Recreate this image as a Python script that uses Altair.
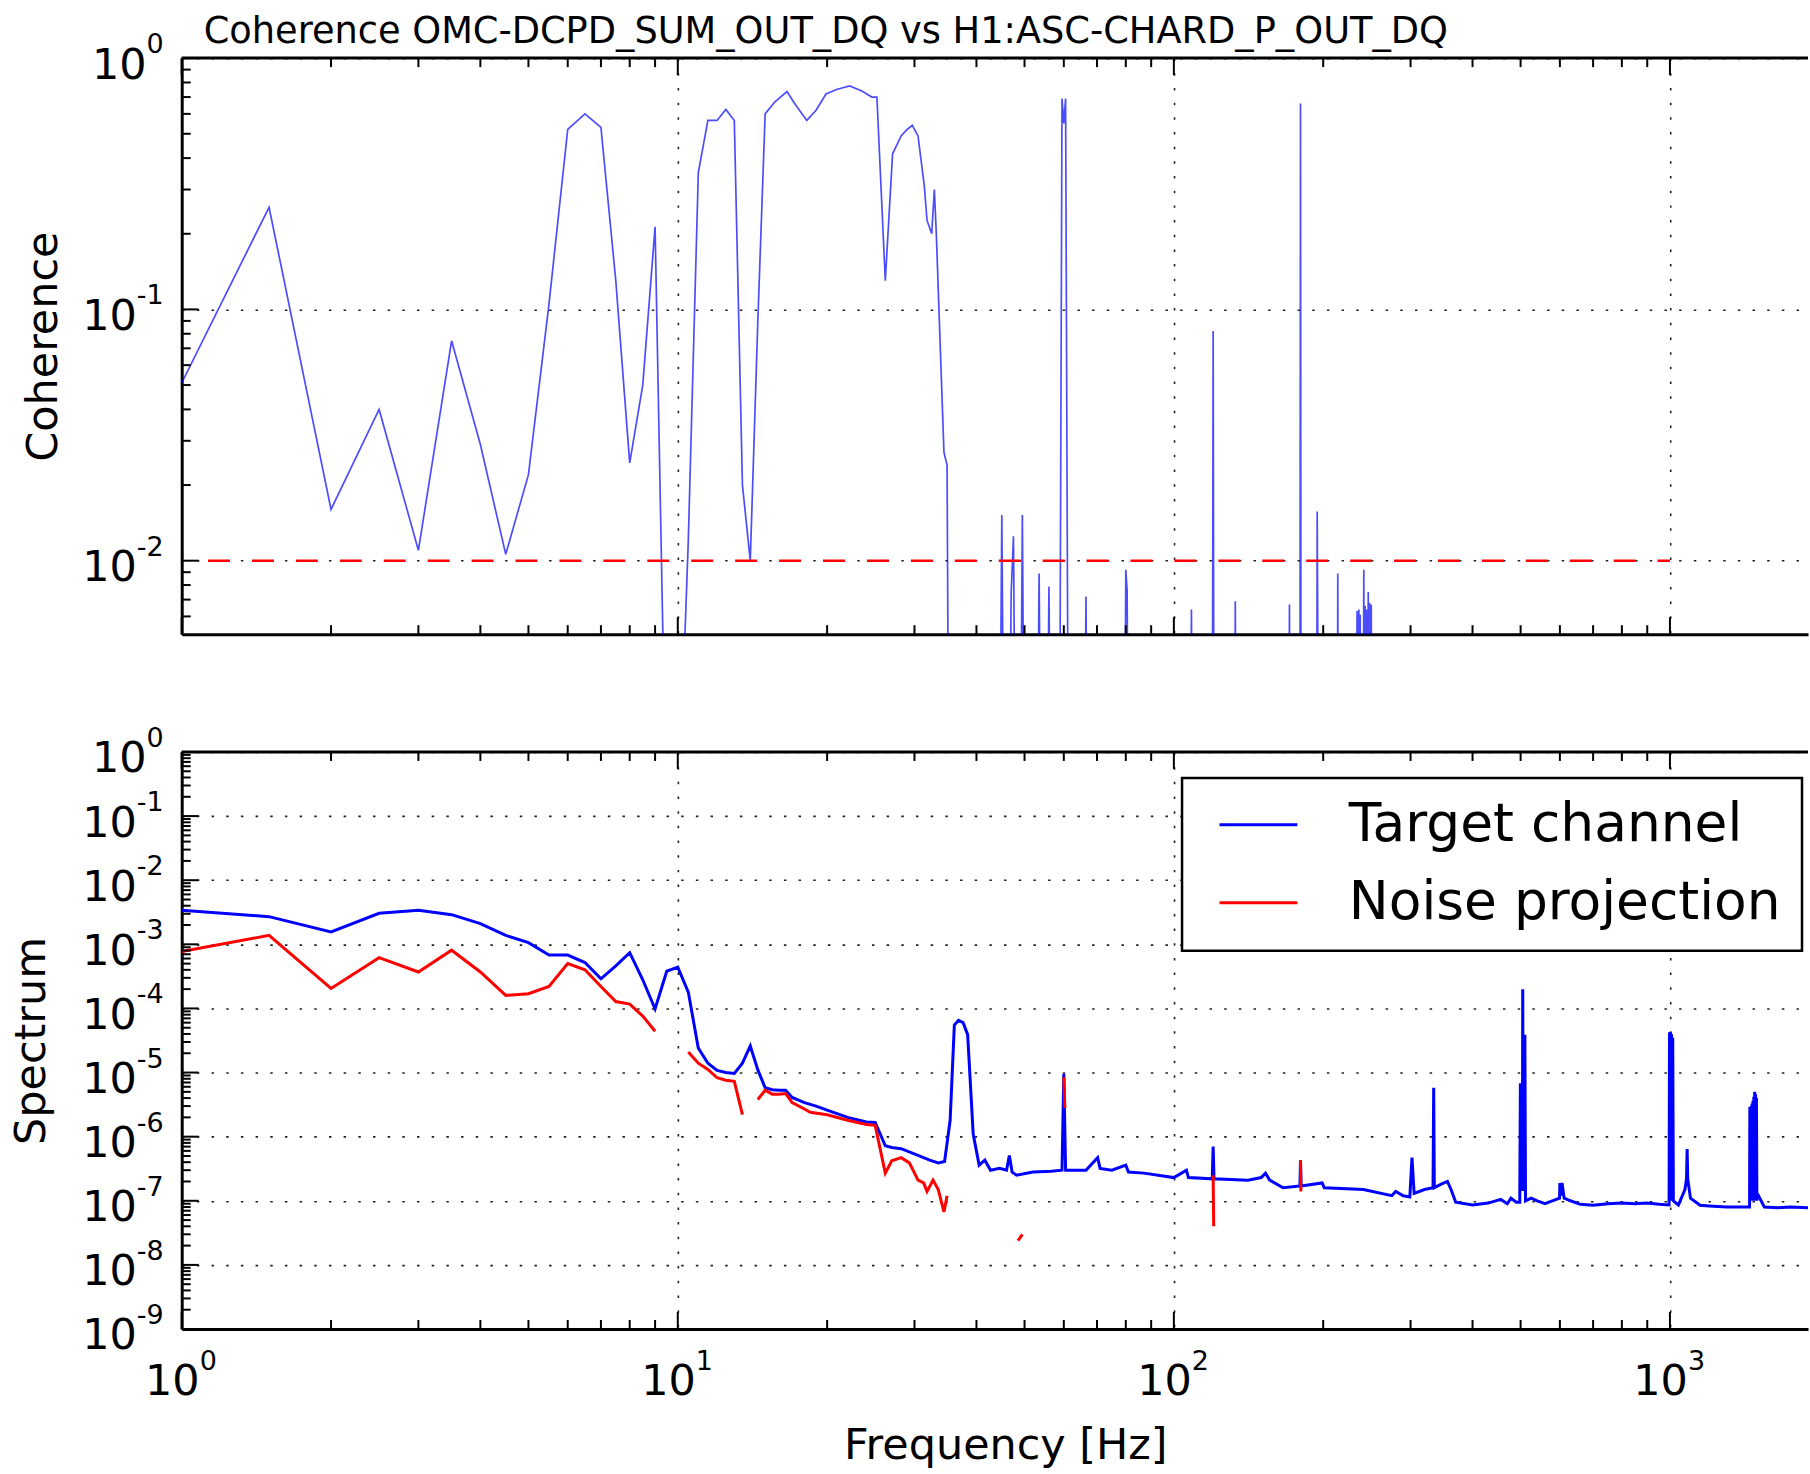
import altair as alt
import pandas as pd

FONT = "DejaVu Sans"

# ---------------- texts ----------------
TITLE = "Coherence OMC-DCPD_SUM_OUT_DQ vs H1:ASC-CHARD_P_OUT_DQ"
X_TITLE = "Frequency [Hz]"
Y_TITLE_TOP = "Coherence"
Y_TITLE_BOTTOM = "Spectrum"
SERIES = ["Target channel", "Noise projection"]
SERIES_COLORS = ["#0000ff", "#ff0000"]

# ---------------- axes / tick labels (10 with superscript exponent) ----------------
X_DOMAIN = [1.0, 1898.0]
COH_DOMAIN = [0.0051, 1.0]
SPEC_DOMAIN = [1e-9, 1.0]
x_major = [1, 10, 100, 1000]
x_exp = ["0", "1", "2", "3"]
coh_major = [1, 0.1, 0.01]
coh_exp = ["0", "-1", "-2"]
spec_major = [1, 1e-1, 1e-2, 1e-3, 1e-4, 1e-5, 1e-6, 1e-7, 1e-8, 1e-9]
spec_exp = ["0", "-1", "-2", "-3", "-4", "-5", "-6", "-7", "-8", "-9"]
BASE_TEXT = "10"

# ---------------- coherence (top panel) ----------------
L = 0.0008  # below the visible floor of the panel
coh_freq = [
    1.0, 1.5, 2.0, 2.5, 3.0, 3.5, 4.0, 4.5, 5.0, 5.5,
    6.0, 6.5, 7.0, 7.5, 8.0, 8.5, 9.0, 9.5, 10.0, 10.5,
    11.0, 11.5, 12.0, 12.5, 13.0, 13.5, 14.0, 14.5, 15.0, 15.7,
    16.6, 17.2, 18.2, 19.0, 19.9, 20.9, 22.2, 23.5, 24.6, 25.2,
    26.2, 27.1, 28.2, 29.0, 29.7, 30.5, 31.4, 31.8, 32.5, 32.9,
    33.2, 34.4, 34.9, 35.2,
    44.5, 45.0, 45.5, 46.5, 47.0, 47.5, 48.0, 49.0, 49.5, 50.0,
    53.0, 53.5, 54.0, 55.5, 56.0, 56.5, 58.8, 59.5, 60.0, 60.5,
    61.3, 66.0, 66.5, 67.0, 79.5, 80.0, 80.5, 81.0, 108.0, 108.5,
    109.0, 119.5, 120.0, 120.5, 132.5, 133.0, 133.5, 170.5, 171.0, 171.5,
    179.5, 180.0, 180.5, 194.0, 194.5, 195.0, 196.5, 213.5, 214.0, 214.5,
    233.5, 234.0, 234.5, 235.0, 235.5, 236.0, 236.5, 237.5, 238.0, 240.5,
    241.5, 242.0, 243.0, 243.5, 245.0, 245.5, 246.5, 247.0, 248.0, 248.5,
    250.0, 250.5, 1898.0,
]
coh_val = [
    0.051, 0.255, 0.016, 0.040, 0.011, 0.075, 0.029, 0.0106, 0.022, 0.105,
    0.52, 0.60, 0.53, 0.13, 0.0245, 0.050, 0.213, L, L, 0.012,
    0.35, 0.565, 0.565, 0.625, 0.565, 0.020, 0.0100, 0.09, 0.60, 0.67,
    0.736, 0.66, 0.565, 0.62, 0.72, 0.75, 0.775, 0.74, 0.70, 0.70,
    0.13, 0.416, 0.49, 0.52, 0.54, 0.49, 0.31, 0.226, 0.20, 0.30,
    0.20, 0.027, 0.024, L,
    L, 0.0152, L, L, 0.0075, 0.0125, L, L, 0.0152, L,
    L, 0.0089, L, L, 0.0079, L, L, 0.69, 0.55, 0.69,
    L, L, 0.0072, L, L, 0.0092, 0.0076, L, L, 0.0064,
    L, L, 0.082, L, L, 0.0069, L, L, 0.0067, L,
    L, 0.66, L, L, 0.0157, 0.0053, L, L, 0.0089, L,
    L, 0.0063, L, 0.0062, L, 0.0064, L, 0.0061, L, L,
    0.0092, L, 0.0066, L, 0.0064, L, 0.0075, L, 0.0068, L,
    0.0067, L, L,
]
thr_freq = [1.13, 1000.0]
thr_val = [0.01, 0.01]

# ---------------- spectra (bottom panel) ----------------
target_freq = [
    1.0, 1.5, 2.0, 2.5, 3.0, 3.5, 4.0, 4.5, 5.0, 5.5,
    6.0, 6.5, 7.0, 7.5, 8.0, 8.5, 9.0, 9.5, 10.0, 10.5,
    11.0, 11.5, 12.0, 12.5, 13.0, 13.5, 14.0, 14.5, 15.0, 15.5,
    16.0, 16.5, 17.0, 18.0, 19.0, 20.0, 22.0, 24.0, 25.0, 26.2,
    27.0, 28.2, 30.5, 32.2, 33.5, 34.5, 35.4, 36.1, 36.8, 37.6,
    38.4, 39.4, 40.5, 41.6, 42.7, 44.5, 46.0, 46.6, 47.2, 48.2,
    52.0, 56.6, 59.5, 60.0, 60.5, 66.5, 70.2, 71.0, 75.0, 80.0,
    81.0, 87.0, 100.0, 106.0, 107.0, 119.5, 120.0, 120.5, 141.0, 150.0,
    153.0, 156.0, 166.0, 179.5, 180.0, 180.5, 199.0, 201.0, 241.0, 275.0,
    280.0, 290.0, 299.0, 302.0, 305.0, 320.0, 333.0, 334.0, 335.0, 345.0,
    356.0, 362.0, 370.0, 400.0, 430.0, 456.0, 470.0, 478.0, 490.0, 498.0,
    499.5, 501.0, 504.0, 505.0, 506.0, 509.0, 510.0, 511.5, 525.0, 540.0,
    560.0, 590.0, 599.0, 600.0, 603.0, 606.0, 612.0, 630.0, 660.0, 700.0,
    750.0, 800.0, 850.0, 900.0, 950.0, 996.0, 998.0, 1000.0, 1002.0, 1004.0,
    1007.0, 1010.0, 1013.0, 1016.0, 1040.0, 1072.0, 1080.0, 1083.0, 1086.0, 1100.0,
    1150.0, 1200.0, 1300.0, 1400.0, 1447.0, 1449.0, 1451.0, 1453.0, 1455.0, 1458.0,
    1461.0, 1464.0, 1467.0, 1470.0, 1473.0, 1476.0, 1479.0, 1482.0, 1485.0, 1488.0,
    1491.0, 1494.0, 1497.0, 1500.0, 1550.0, 1650.0, 1750.0, 1898.0,
]
target_val = [
    3.4e-3, 2.7e-3, 1.56e-3, 3.05e-3, 3.4e-3, 2.9e-3, 2.1e-3, 1.38e-3, 1.06e-3, 6.8e-4,
    6.8e-4, 5.2e-4, 2.9e-4, 4.6e-4, 7.4e-4, 2.8e-4, 9.8e-5, 3.8e-4, 4.4e-4, 1.8e-4,
    2.4e-5, 1.4e-5, 1.08e-5, 1.0e-5, 9.7e-6, 1.4e-5, 2.6e-5, 1.1e-5, 5.8e-6, 5.4e-6,
    5.3e-6, 5.3e-6, 4.1e-6, 3.4e-6, 3.0e-6, 2.6e-6, 2.0e-6, 1.7e-6, 1.67e-6, 7.2e-7,
    6.8e-7, 6.5e-7, 5.1e-7, 4.3e-7, 3.9e-7, 4.1e-7, 1.8e-6, 5.5e-5, 6.5e-5, 6.0e-5,
    3.9e-5, 1.1e-6, 3.6e-7, 4.3e-7, 3.0e-7, 3.2e-7, 3.0e-7, 5.1e-7, 2.8e-7, 2.5e-7,
    2.8e-7, 2.9e-7, 3.0e-7, 9.5e-6, 3.0e-7, 3.0e-7, 4.7e-7, 3.2e-7, 3.0e-7, 3.6e-7,
    2.8e-7, 2.7e-7, 2.3e-7, 3.0e-7, 2.3e-7, 2.2e-7, 7.0e-7, 2.2e-7, 2.1e-7, 2.3e-7,
    2.7e-7, 2.1e-7, 1.6e-7, 1.7e-7, 4.3e-7, 1.7e-7, 1.9e-7, 1.6e-7, 1.5e-7, 1.2e-7,
    1.4e-7, 1.2e-7, 1.15e-7, 4.7e-7, 1.3e-7, 1.5e-7, 1.6e-7, 5.8e-6, 1.6e-7, 1.8e-7,
    2.0e-7, 1.5e-7, 9.5e-8, 8.6e-8, 9.2e-8, 1.05e-7, 9.0e-8, 1.1e-7, 9.5e-8, 9.5e-8,
    6.8e-6, 1.5e-7, 1.5e-7, 2.0e-4, 1.5e-7, 1.5e-7, 3.9e-5, 1.0e-7, 1.1e-7, 1.0e-7,
    9.0e-8, 1.05e-7, 1.1e-7, 1.9e-7, 1.2e-7, 1.9e-7, 1.1e-7, 1.0e-7, 8.8e-8, 8.5e-8,
    9.0e-8, 9.2e-8, 9.0e-8, 9.2e-8, 8.8e-8, 8.6e-8, 4.2e-5, 1.0e-7, 4.3e-5, 1.0e-7,
    4.0e-5, 1.0e-7, 3.5e-5, 1.0e-7, 8.6e-8, 1.5e-7, 2.2e-7, 6.4e-7, 2.2e-7, 1.1e-7,
    8.5e-8, 8.3e-8, 8.0e-8, 8.0e-8, 8.0e-8, 2.9e-6, 1.0e-7, 2.8e-6, 1.0e-7, 3.0e-6,
    1.0e-7, 3.3e-6, 1.0e-7, 3.6e-6, 1.0e-7, 4.2e-6, 1.0e-7, 5.0e-6, 1.0e-7, 4.6e-6,
    1.0e-7, 4.0e-6, 1.0e-7, 1.3e-7, 8.0e-8, 7.8e-8, 8.0e-8, 7.8e-8,
]

noise_freq = [
    1.0, 1.5, 2.0, 2.5, 3.0, 3.5, 4.0, 4.5, 5.0, 5.5, 6.0, 6.5, 7.0, 7.5, 8.0, 8.5, 9.0,
    10.5, 11.0, 11.5, 12.0, 12.5, 13.0, 13.5,
    14.5, 15.0, 15.5, 16.0, 16.5, 17.0, 18.0, 18.5, 20.0, 22.0, 24.0, 25.0,
    26.2, 27.0, 28.2, 29.3, 30.5, 31.3, 31.8, 32.7, 33.5, 34.4, 34.9,
    48.5, 49.5,
    60.0, 60.3,
    120.0, 120.3,
    180.0, 180.3,
]
noise_val = [
    7.7e-4, 1.38e-3, 2.05e-4, 6.2e-4, 3.7e-4, 8.1e-4, 3.7e-4, 1.6e-4, 1.7e-4, 2.2e-4,
    5.0e-4, 4.0e-4, 2.2e-4, 1.28e-4, 1.17e-4, 7.6e-5, 4.4e-5,
    2.1e-5, 1.4e-5, 1.12e-5, 8.3e-6, 7.6e-6, 7.3e-6, 2.2e-6,
    3.8e-6, 5.3e-6, 4.6e-6, 4.6e-6, 4.7e-6, 3.4e-6, 2.7e-6, 2.4e-6, 2.2e-6, 1.8e-6, 1.55e-6, 1.5e-6,
    2.7e-7, 4.2e-7, 4.7e-7, 3.9e-7, 2.1e-7, 1.9e-7, 1.4e-7, 2.1e-7, 1.5e-7, 6.7e-8, 1.2e-7,
    2.4e-8, 3.0e-8,
    8.5e-6, 2.8e-6,
    2.5e-7, 4.0e-8,
    4.3e-7, 1.4e-7,
]
noise_seg = [1] * 17 + [2] * 7 + [3] * 23 + [4] * 2 + [5] * 2 + [6] * 2 + [7] * 2

# ---------------- layout ----------------
W = 1629
H_TOP = 577
H_BOT = 578
GAP = 118
MAJ_LEN = 17
MIN_LEN = 9
BASE_FS = 43
EXP_FS = 27
EXP_W0 = 0.636 * EXP_FS           # advance of a single superscript digit
EXP_WN = (0.361 + 0.636) * EXP_FS  # advance of hyphen + digit

coh_df = pd.DataFrame({"f": coh_freq, "c": coh_val})
thr_df = pd.DataFrame({"f": thr_freq, "c": thr_val})
target_df = pd.DataFrame({"f": target_freq, "v": target_val, "series": SERIES[0], "seg": 0})
noise_df = pd.DataFrame({"f": noise_freq, "v": noise_val, "series": SERIES[1], "seg": noise_seg})

xs = alt.Scale(type="log", domain=X_DOMAIN, nice=False)
ys_top = alt.Scale(type="log", domain=COH_DOMAIN, nice=False)
ys_bot = alt.Scale(type="log", domain=SPEC_DOMAIN, nice=False)
color_scale = alt.Scale(domain=SERIES, range=SERIES_COLORS)


def minor_ticks(lo, hi):
    out = []
    e = -12
    while e < 5:
        for m in range(2, 10):
            t = m * 10.0 ** e
            if lo < t < hi:
                out.append(t)
        e += 1
    return out


GRID = dict(grid=True, gridColor="#222222", gridDash=[2.5, 12.2], gridWidth=1.6)


def y_axis(values, title, title_x, height):
    return alt.Axis(
        values=values, labels=False, ticks=False, tickSize=0, domain=True,
        domainColor="black", domainWidth=3,
        title=title, titleFont=FONT, titleFontSize=43, titleFontWeight="normal",
        titleColor="black", titleAngle=270, titleX=title_x, titleY=height / 2,
        titleAlign="center", titleBaseline="alphabetic", **GRID)


AX_X_TOP = alt.Axis(values=x_major, labels=False, ticks=False, tickSize=0, domain=True,
                    domainColor="black", domainWidth=3, title=None, **GRID)
AX_X_BOT = alt.Axis(
    values=x_major, labels=False, ticks=False, tickSize=0, domain=True,
    domainColor="black", domainWidth=3,
    title=X_TITLE, titleFont=FONT, titleFontSize=43, titleFontWeight="normal",
    titleColor="black", titleX=825, titleY=130, titleAlign="center",
    titleBaseline="alphabetic", **GRID)
AX_Y_TOP = y_axis(coh_major, Y_TITLE_TOP, -125, H_TOP)
AX_Y_BOT = y_axis(spec_major, Y_TITLE_BOTTOM, -137, H_BOT)


def x_tick_layers(H, axis):
    layers = []
    xmin = minor_ticks(X_DOMAIN[0], X_DOMAIN[1])
    for vals, ln in ((x_major, MAJ_LEN), (xmin, MIN_LEN)):
        df = pd.DataFrame({"t": vals})
        for y0, y1 in ((H, H - ln), (0, ln)):
            layers.append(alt.Chart(df).mark_rule(color="black", strokeWidth=2).encode(
                x=alt.X("t:Q", scale=xs, axis=axis), y=alt.value(y0), y2=alt.value(y1)))
    return layers


def y_tick_layers(major, domain, scale, axis):
    layers = []
    ymin = minor_ticks(domain[0], domain[1])
    for vals, ln in ((major, MAJ_LEN), (ymin, MIN_LEN)):
        df = pd.DataFrame({"t": vals})
        layers.append(alt.Chart(df).mark_rule(color="black", strokeWidth=2).encode(
            y=alt.Y("t:Q", scale=scale, axis=axis), x=alt.value(0), x2=alt.value(ln)))
    return layers


def y_label_layers(major, exps, scale, axis):
    df = pd.DataFrame({"t": major, "e": exps})
    base = alt.Chart(df)
    exp_layer = base.mark_text(align="right", baseline="alphabetic", font=FONT,
                               fontSize=EXP_FS, color="black", dy=-5).encode(
        y=alt.Y("t:Q", scale=scale, axis=axis), x=alt.value(-18), text="e:N")
    base_zero = base.transform_filter("datum.t >= 1").mark_text(
        align="right", baseline="alphabetic", font=FONT, fontSize=BASE_FS, color="black",
        dy=20.5, text=BASE_TEXT).encode(
        y=alt.Y("t:Q", scale=scale, axis=axis), x=alt.value(-18 - EXP_W0))
    base_neg = base.transform_filter("datum.t < 1").mark_text(
        align="right", baseline="alphabetic", font=FONT, fontSize=BASE_FS, color="black",
        dy=20.5, text=BASE_TEXT).encode(
        y=alt.Y("t:Q", scale=scale, axis=axis), x=alt.value(-18 - EXP_WN))
    return [exp_layer, base_zero, base_neg]


def x_label_layers(H, axis):
    df = pd.DataFrame({"t": x_major, "e": x_exp})
    base = alt.Chart(df)
    base_layer = base.mark_text(align="right", baseline="alphabetic", font=FONT,
                                fontSize=BASE_FS, color="black", dx=18, text=BASE_TEXT).encode(
        x=alt.X("t:Q", scale=xs, axis=axis), y=alt.value(H + 66))
    exp_layer = base.mark_text(align="left", baseline="alphabetic", font=FONT,
                               fontSize=EXP_FS, color="black", dx=18).encode(
        x=alt.X("t:Q", scale=xs, axis=axis), y=alt.value(H + 41), text="e:N")
    return [base_layer, exp_layer]


def top_border():
    return alt.Chart(pd.DataFrame({"a": [0]})).mark_rule(color="black", strokeWidth=3).encode(
        x=alt.value(0), x2=alt.value(W), y=alt.value(0))


# ---------------- top panel ----------------
coh_line = alt.Chart(coh_df).mark_line(clip=True, color="#0000ff", strokeWidth=1.7, opacity=0.7).encode(
    x=alt.X("f:Q", scale=xs, axis=AX_X_TOP),
    y=alt.Y("c:Q", scale=ys_top, axis=AX_Y_TOP),
)
thr_line = alt.Chart(thr_df).mark_line(clip=True, color="#ff0000", strokeWidth=2.5, strokeDash=[22, 22]).encode(
    x=alt.X("f:Q", scale=xs, axis=AX_X_TOP),
    y=alt.Y("c:Q", scale=ys_top, axis=AX_Y_TOP),
)
top = alt.layer(
    coh_line, thr_line, *x_tick_layers(H_TOP, AX_X_TOP),
    *y_tick_layers(coh_major, COH_DOMAIN, ys_top, AX_Y_TOP),
    *y_label_layers(coh_major, coh_exp, ys_top, AX_Y_TOP), top_border()
).properties(
    width=W, height=H_TOP,
    title=alt.TitleParams(TITLE, anchor="start", frame="group", dx=22, offset=-49,
                          baseline="alphabetic", font=FONT, fontSize=36.8,
                          fontWeight="normal", color="black"),
)

# ---------------- bottom panel ----------------
legend = alt.Legend(
    orient="none", legendX=1002, legendY=H_TOP + GAP + 26, title=None, direction="vertical",
    labelFont=FONT, labelFontSize=53.5, labelColor="black", labelLimit=0,
    symbolType="stroke", symbolSize=6084, symbolStrokeWidth=3,
    symbolOffset=15, labelOffset=50, padding=21, rowPadding=24, clipHeight=52,
    strokeColor="black", fillColor="white", cornerRadius=0,
)
target_line = alt.Chart(target_df).mark_line(clip=True, strokeWidth=3).encode(
    x=alt.X("f:Q", scale=xs, axis=AX_X_BOT),
    y=alt.Y("v:Q", scale=ys_bot, axis=AX_Y_BOT),
    color=alt.Color("series:N", scale=color_scale, legend=legend),
    detail="seg:N",
)
noise_line = alt.Chart(noise_df).mark_line(clip=True, strokeWidth=3).encode(
    x=alt.X("f:Q", scale=xs, axis=AX_X_BOT),
    y=alt.Y("v:Q", scale=ys_bot, axis=AX_Y_BOT),
    color=alt.Color("series:N", scale=color_scale, legend=legend),
    detail="seg:N",
)
bottom = alt.layer(
    target_line, noise_line, *x_tick_layers(H_BOT, AX_X_BOT),
    *y_tick_layers(spec_major, SPEC_DOMAIN, ys_bot, AX_Y_BOT),
    *y_label_layers(spec_major, spec_exp, ys_bot, AX_Y_BOT),
    *x_label_layers(H_BOT, AX_X_BOT), top_border()
).properties(width=W, height=H_BOT)

chart = alt.vconcat(top, bottom, spacing=GAP, bounds="flush").properties(
    padding={"left": 10, "top": 12, "right": 0, "bottom": 0}
).configure(font=FONT).configure_view(stroke="transparent").configure_legend(strokeWidth=2.5)

chart.save("out.html", embed_options={"renderer": "svg", "actions": False})
